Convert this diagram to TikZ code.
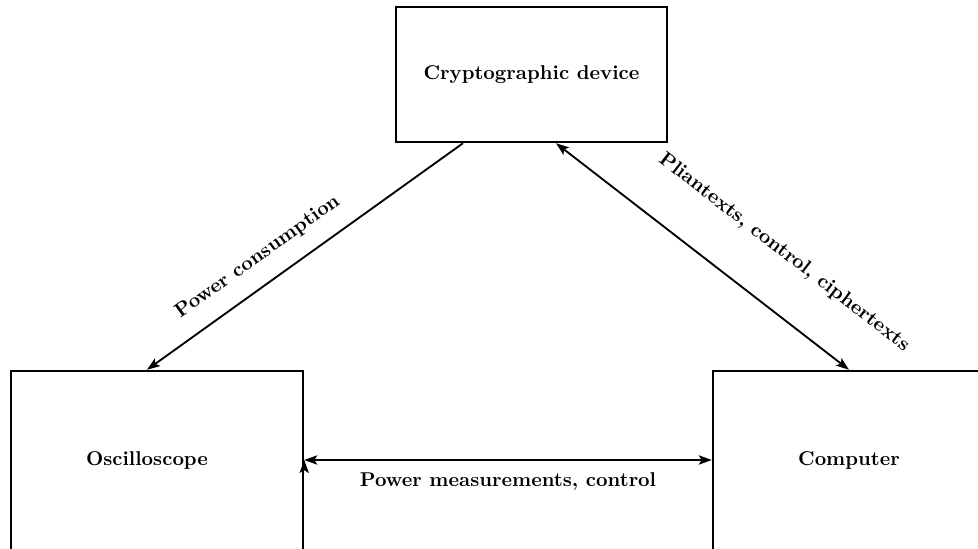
\documentclass[tikz,border=0pt]{standalone}
\usepackage{tikz}
\usetikzlibrary{arrows}
\usetikzlibrary{arrows.meta}
\usetikzlibrary{calc}
\usetikzlibrary{positioning}

\begin{document}
\begin{tikzpicture}[x=0.019cm,y=-0.019cm,font=\fontsize{10.8}{13}\selectfont\bfseries,
    box/.style={draw,line width=1.3pt,rectangle,minimum width=5.548cm,minimum height=3.458cm}]

  \useasboundingbox (0,0) rectangle (978,549);
  \clip (0,0) rectangle (978,549);

  \node [draw,line width=1.3pt,rectangle,minimum width=5.149cm,minimum height=2.565cm] (crypto) at (531.5,74.5) {Cryptographic device};

  \node [box] (osc) at (157,462) {};
  \node (osclab) at (147,460) {Oscilloscope};

  \node [box] (com) at (859,462) {};
  \node (comlab) at (849,460) {Computer};

  \path [draw,line width=1pt,->,>={Stealth[length=7pt,width=5pt,inset=1.5pt]}]
    ($(crypto.south)+(-68.5,0)$) edge node[sloped,above=6pt,pos=0.6] {Power consumption} (osclab |- osc.north)
    ($(crypto.south)+(24.5,0)$)  edge[<->] node[sloped,above=20pt,pos=0.668] {Pliantexts, control, ciphertexts} (comlab |- com.north)
    (osc.east |- osclab)         edge[<->] node[below=3pt] {Power measurements, control} (com.west |- comlab);

\end{tikzpicture}
\end{document}
